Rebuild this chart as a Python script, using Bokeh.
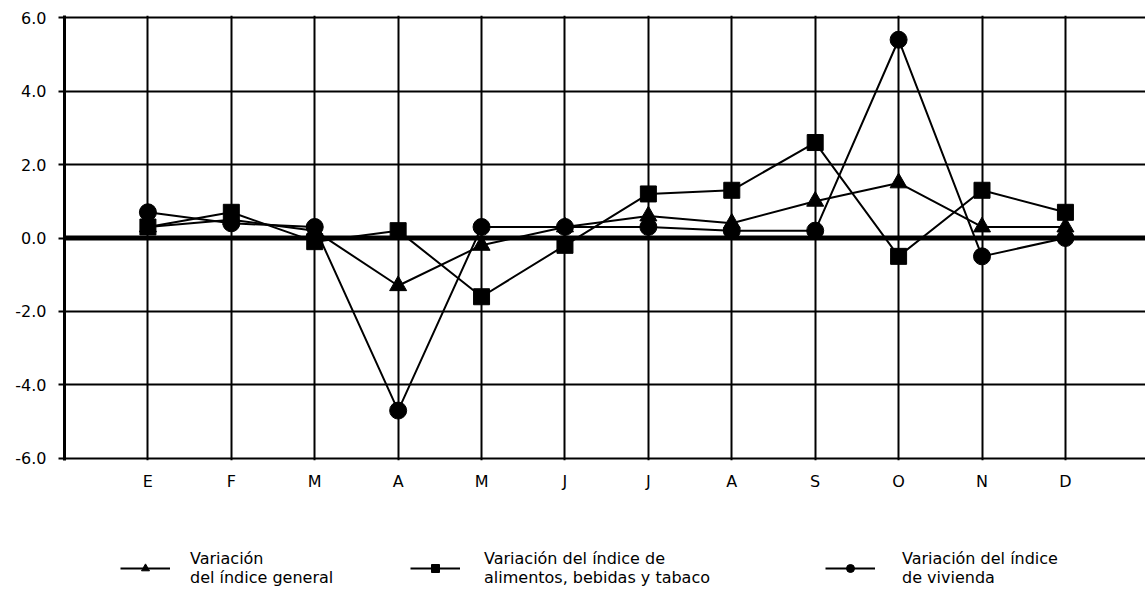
from bokeh.plotting import figure
from bokeh.layouts import column
from bokeh.models import (Range1d, FixedTicker, Span, Legend, LegendItem,
                          PrintfTickFormatter)
from bokeh.embed import file_html
from bokeh.resources import INLINE

# ---- data ----
months = ["E", "F", "M", "A", "M", "J", "J", "A", "S", "O", "N", "D"]
general = [0.3, 0.5, 0.2, -1.3, -0.2, 0.3, 0.6, 0.4, 1.0, 1.5, 0.3, 0.3]
alimentos = [0.3, 0.7, -0.1, 0.2, -1.6, -0.2, 1.2, 1.3, 2.6, -0.5, 1.3, 0.7]
vivienda = [0.7, 0.4, 0.3, -4.7, 0.3, 0.3, 0.3, 0.2, 0.2, 5.4, -0.5, 0.0]
y_ticks = [-6, -4, -2, 0, 2, 4, 6]

label_general = "Variación\ndel índice general"
label_alimentos = "Variación del índice de\nalimentos, bebidas y tabaco"
label_vivienda = "Variación del índice\nde vivienda"

FONT = "DejaVu Sans"
xs = list(range(1, len(months) + 1))
NAN = float("nan")

p = figure(width=1145, height=493, output_backend="svg", toolbar_location=None,
           x_range=Range1d(0, 12.96), y_range=Range1d(-6.06, 6.06),
           min_border_left=64, min_border_right=0, min_border_top=15,
           min_border_bottom=31)
p.outline_line_color = None
p.background_fill_color = "white"
p.border_fill_color = "white"

# grids
p.xgrid.ticker = FixedTicker(ticks=xs)
p.ygrid.ticker = FixedTicker(ticks=y_ticks)
for g in (p.xgrid, p.ygrid):
    g.grid_line_color = "black"
    g.grid_line_width = 2
    g.grid_line_alpha = 1

# y axis
p.yaxis.ticker = FixedTicker(ticks=y_ticks)
p.yaxis.formatter = PrintfTickFormatter(format="%.1f")
p.yaxis.axis_line_width = 3
p.yaxis.axis_line_color = "black"
p.yaxis.major_tick_out = 6
p.yaxis.major_tick_in = 0
p.yaxis.major_tick_line_width = 2
p.yaxis.minor_tick_line_color = None
p.yaxis.major_label_text_font = FONT
p.yaxis.major_label_text_font_size = "16px"
p.yaxis.major_label_text_color = "black"
p.yaxis.major_label_standoff = 12

# x axis
p.xaxis.ticker = FixedTicker(ticks=xs)
p.xaxis.major_label_overrides = {x: m for x, m in zip(xs, months)}
p.xaxis.axis_line_color = None
p.xaxis.major_tick_line_color = None
p.xaxis.minor_tick_line_color = None
p.xaxis.major_label_text_font = FONT
p.xaxis.major_label_text_font_size = "16px"
p.xaxis.major_label_text_color = "black"
p.xaxis.major_label_standoff = 5

# zero line
p.add_layout(Span(location=0, dimension="width", line_color="black", line_width=5))

# series
r_vl = p.line(xs, vivienda, line_color="black", line_width=2)
r_vm = p.scatter(xs, vivienda, marker="circle", size=17, fill_color="black", line_color="black")
r_gl = p.line(xs, general, line_color="black", line_width=2)
r_gm = p.scatter(xs, general, marker="triangle", size=17, fill_color="black", line_color="black")
r_al = p.line(xs, alimentos, line_color="black", line_width=2)
r_am = p.scatter(xs, alimentos, marker="square", size=16, fill_color="black", line_color="black")

# ---- legend strip (separate figure below the chart) ----
lg = figure(width=1145, height=99, output_backend="svg", toolbar_location=None,
            x_range=Range1d(0, 1), y_range=Range1d(0, 1),
            min_border=0, x_axis_location=None, y_axis_location=None)
lg.outline_line_color = None
lg.xgrid.visible = False
lg.ygrid.visible = False

series_styles = [
    (label_general, "triangle", 56, 20),
    (label_alimentos, "square", 346, 24),
    (label_vivienda, "circle", 761, 27),
]
for label, marker, x0, standoff in series_styles:
    # legend-only proxies (NaN: nothing is drawn in the strip itself)
    rl = lg.line([NAN], [NAN], line_color="black", line_width=2)
    rm = lg.scatter([NAN], [NAN], marker=marker, size=12, fill_color="black", line_color="black")
    leg = Legend(items=[LegendItem(label=label, renderers=[rl, rm])],
                 location=(x0, 5), orientation="horizontal",
                 glyph_width=50, glyph_height=20, label_standoff=standoff,
                 padding=0, margin=0, border_line_color=None,
                 background_fill_alpha=0,
                 label_text_font=FONT, label_text_font_size="16px",
                 label_text_color="black", label_text_line_height=1.3)
    lg.add_layout(leg, "center")

layout = column(p, lg, spacing=0)
open("out.html", "w").write(file_html(layout, INLINE))
